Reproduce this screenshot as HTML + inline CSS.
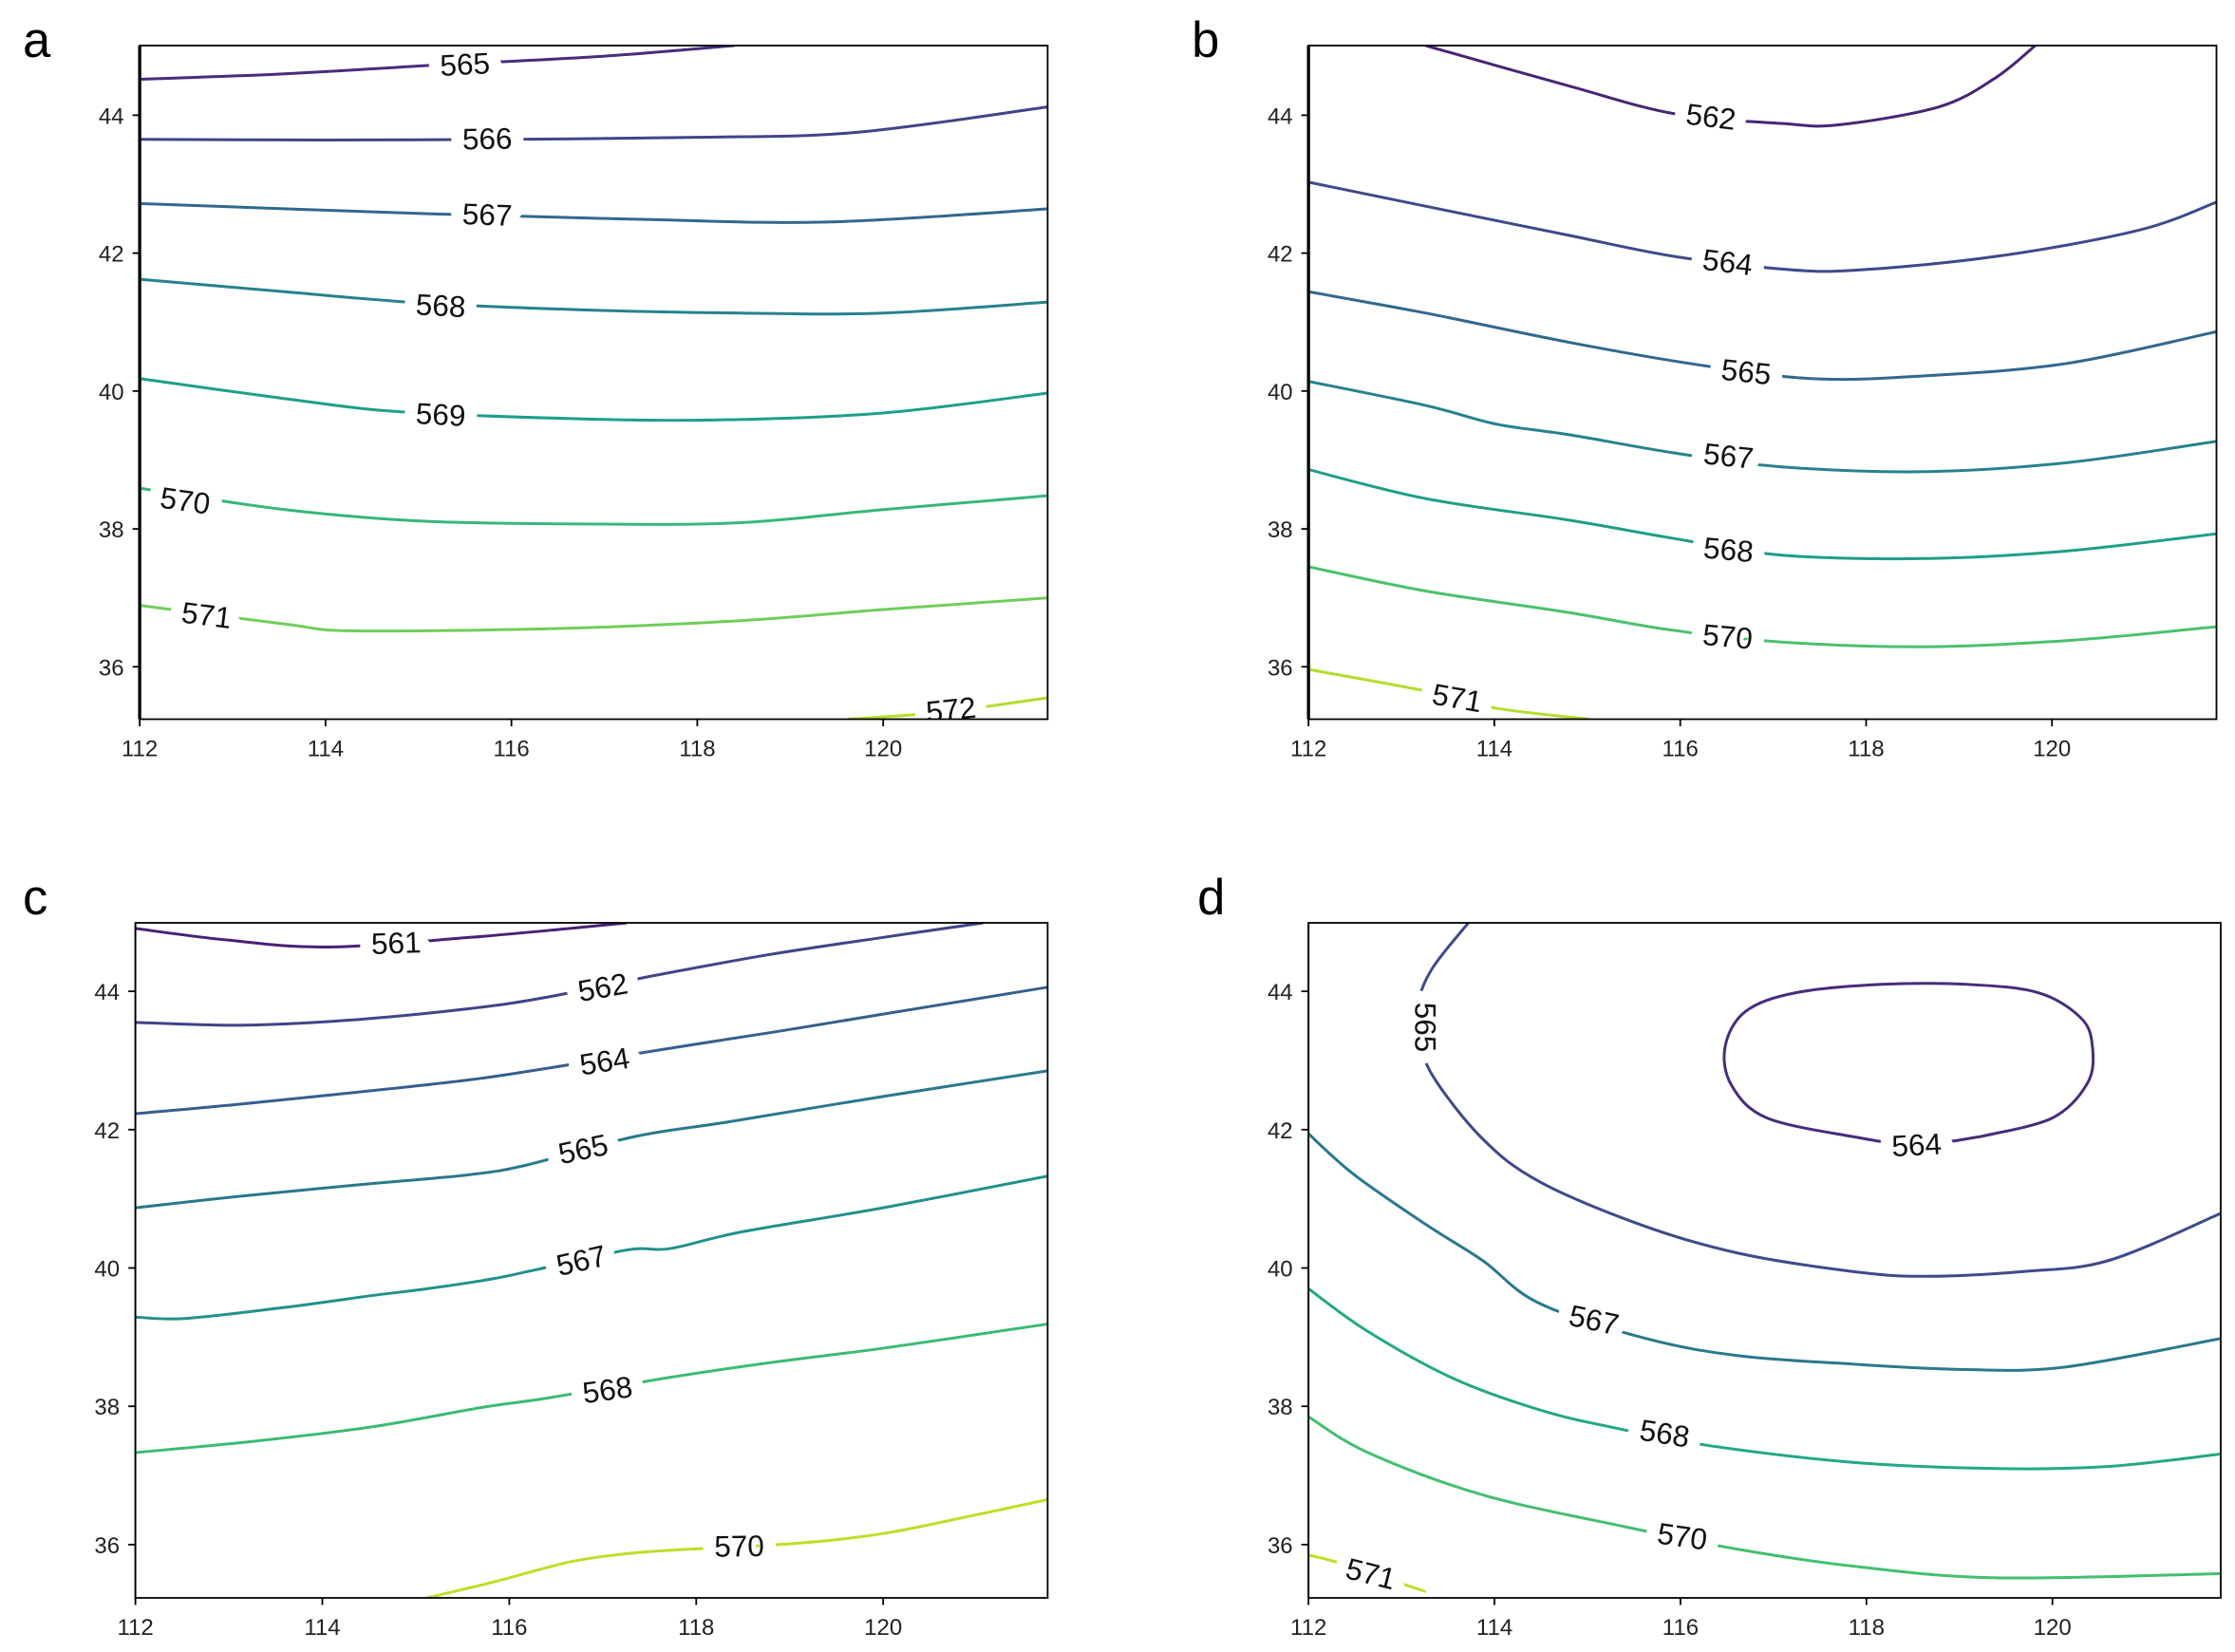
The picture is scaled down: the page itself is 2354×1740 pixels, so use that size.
<!DOCTYPE html>
<html><head><meta charset="utf-8">
<style>
html,body{margin:0;padding:0;background:#fff;}
svg{display:block;}
text{font-family:"Liberation Sans","DejaVu Sans",sans-serif;}
</style></head>
<body>
<svg id="fig" width="2354" height="1740" viewBox="0 0 1568 1160" preserveAspectRatio="none" xmlns="http://www.w3.org/2000/svg"></svg>
<script>
// ---- data (lon, lat) ----
const xTicks = [112,114,116,118,120];
const yTicks = [36,38,40,42,44];

const aLevels = ["565","566","567","568","569","570","571","572"];
const aColors = ["#472d7b","#414487","#31688e","#26828e","#1f9e89","#35b779","#6ece58","#b5de2b"];
const aLines = [
 [[112,44.52],[113.56,44.6],[115.1,44.72],[116.94,44.85],[118.4,45.01]],
 [[112,43.65],[114,43.64],[116,43.65],[118,43.68],[119.7,43.75],[121.77,44.12]],
 [[112,42.72],[115.1,42.57],[117.4,42.49],[119.39,42.45],[121.77,42.64]],
 [[112,41.62],[113.56,41.44],[115.1,41.27],[116.94,41.17],[118.47,41.13],[120,41.13],[121.77,41.29]],
 [[112,40.18],[113.56,39.89],[114.79,39.7],[116.63,39.6],[118.17,39.58],[120,39.68],[121.77,39.97]],
 [[112,38.59],[113.56,38.28],[115.1,38.11],[116.94,38.07],[118.47,38.09],[120,38.28],[121.77,38.48]],
 [[112,36.89],[113.56,36.62],[114.33,36.52],[116.63,36.56],[118.47,36.67],[120,36.83],[121.77,37.0]],
 [[119.62,35.24],[120.62,35.34],[121.77,35.55]]
];
const aLabels = [[115.5,44.74,-3],[115.74,43.66,-1],[115.74,42.56,2],[115.24,41.24,3],[115.24,39.66,3],[112.49,38.41,8],[112.72,36.75,7],[120.73,35.38,-6]];

const bLevels = ["562","564","565","567","568","570","571"];
const bColors = ["#482575","#3e4a89","#31688e","#26828e","#1f9e89","#4ac16d","#b5de2b"];
const bLines = [
 [[113.26,45.01],[114.79,44.43],[115.94,44.02],[117.09,43.88],[117.7,43.86],[118.78,44.12],[119.39,44.54],[119.82,45.01]],
 [[112,43.03],[113.26,42.68],[114.79,42.26],[115.94,41.95],[117.09,41.77],[117.86,41.75],[119.39,41.95],[120.93,42.33],[121.77,42.74]],
 [[112,41.44],[113.26,41.13],[114.79,40.71],[116.1,40.4],[117.4,40.18],[118.63,40.22],[120.16,40.4],[121.77,40.86]],
 [[112,40.14],[113.26,39.79],[114.02,39.52],[114.79,39.37],[115.94,39.1],[117.09,38.9],[118.63,38.83],[120.16,38.96],[121.77,39.27]],
 [[112,38.86],[113.26,38.44],[114.79,38.13],[115.94,37.86],[117.09,37.62],[118.63,37.57],[120.16,37.68],[121.77,37.93]],
 [[112,37.45],[113.26,37.1],[114.79,36.79],[115.87,36.54],[117.09,36.36],[118.63,36.29],[120.16,36.38],[121.77,36.58]],
 [[112,35.96],[113.26,35.65],[114.02,35.4],[115.02,35.24]]
];
const bLabels = [[116.33,43.98,7],[116.51,41.87,7],[116.71,40.28,6],[116.52,39.06,6],[116.52,37.7,5],[116.51,36.44,5],[113.6,35.55,10]];

const cLevels = ["561","562","564","565","567","568","570"];
const cColors = ["#482173","#414487","#355f8d","#2a788e","#21918c","#3bbb75","#bddf26"];
const cLines = [
 [[112,44.91],[112.99,44.74],[114.06,44.64],[115.58,44.78],[116.65,44.91],[117.26,44.99]],
 [[112,43.55],[113.14,43.51],[114.36,43.59],[115.58,43.75],[116.42,43.92],[117.56,44.23],[118.78,44.53],[120,44.78],[121.07,44.99]],
 [[112,42.23],[113.14,42.37],[114.36,42.54],[115.58,42.72],[116.42,42.89],[117.64,43.16],[118.78,43.4],[120,43.67],[121.76,44.06]],
 [[112,40.87],[113.14,41.04],[114.36,41.2],[115.58,41.35],[116.19,41.49],[117.34,41.9],[118.33,42.11],[120,42.48],[121.76,42.85]],
 [[112,39.29],[112.53,39.27],[113.6,39.43],[114.52,39.6],[115.12,39.7],[115.81,39.84],[116.27,39.97],[117.26,40.26],[117.72,40.28],[118.48,40.52],[120,40.87],[121.76,41.33]],
 [[112,37.33],[113.3,37.5],[114.52,37.7],[115.73,37.99],[116.42,38.12],[117.64,38.4],[118.78,38.63],[120,38.84],[121.76,39.19]],
 [[115.12,35.23],[115.89,35.48],[116.65,35.75],[117.26,35.87],[117.87,35.93],[119.09,36.02],[120,36.16],[120.92,36.41],[121.76,36.65]]
];
const cLabels = [[114.79,44.7,-2],[117.0,44.06,-10],[117.02,42.99,-9],[116.79,41.72,-12],[116.77,40.11,-13],[117.05,38.24,-8],[118.46,35.98,-1]];

const dLevels = ["564","565","567","568","570","571"];
const dColors = ["#472d7b","#3e4a89","#2a788e","#22a884","#44bf70","#bddf26"];
const dLines = [
 [[119.23,41.9],[120,42.17],[120.38,42.68],[120.43,43.2],[120.31,43.61],[119.85,43.98],[119.08,44.1],[118.16,44.1],[117.24,43.98],[116.7,43.71],[116.48,43.2],[116.55,42.64],[116.93,42.17],[117.85,41.9],[118.54,41.78],[119.23,41.9]],
 [[113.72,44.99],[113.33,44.33],[113.18,43.81],[113.22,43.3],[113.33,42.79],[113.87,41.87],[114.48,41.25],[115.56,40.63],[116.63,40.21],[117.85,39.95],[118.62,39.88],[119.69,39.95],[120.61,40.11],[121.81,40.79]],
 [[112,41.94],[112.49,41.35],[113.26,40.63],[113.87,40.11],[114.48,39.49],[115.63,38.98],[116.63,38.73],[117.85,38.61],[119.08,38.53],[120.15,38.57],[121.81,38.98]],
 [[112,39.7],[112.64,39.08],[113.56,38.4],[114.48,37.95],[115.25,37.7],[116.32,37.43],[117.85,37.19],[119.39,37.1],[120.61,37.13],[121.81,37.31]],
 [[112,37.85],[112.64,37.33],[113.87,36.72],[115.4,36.26],[116.63,35.93],[117.85,35.69],[119.39,35.52],[121.81,35.58]],
 [[112,35.85],[112.34,35.73],[113.26,35.32]]
];
const dLabels = [[118.54,41.78,-3],[113.26,43.48,90],[115.07,39.25,12],[115.83,37.61,9],[116.02,36.12,8],[112.67,35.58,14]];

// ---- layout ----
const panels = [
 {id:"a",letter:"a",lx:16,ly:40,x0:98,x1:735,y0:32,y1:505,lonMax:121.77,latTop:45.01,latBot:35.24,spine:2.2,levels:aLevels,colors:aColors,lines:aLines,labels:aLabels},
 {id:"b",letter:"b",lx:836,ly:40,x0:918,x1:1555,y0:32,y1:505,lonMax:121.77,latTop:45.01,latBot:35.24,spine:2.2,levels:bLevels,colors:bColors,lines:bLines,labels:bLabels},
 {id:"c",letter:"c",lx:16,ly:642,x0:95,x1:735,y0:648,y1:1122,lonMax:121.76,latTop:44.99,latBot:35.23,spine:1.2,levels:cLevels,colors:cColors,lines:cLines,labels:cLabels},
 {id:"d",letter:"d",lx:840,ly:642,x0:918,x1:1558,y0:648,y1:1122,lonMax:121.81,latTop:44.99,latBot:35.23,spine:1.2,levels:dLevels,colors:dColors,lines:dLines,labels:dLabels}
];
const NS="http://www.w3.org/2000/svg";
const svg=document.getElementById("fig");
function mk(tag,attrs,parent){const e=document.createElementNS(NS,tag);for(const k in attrs)e.setAttribute(k,attrs[k]);parent.appendChild(e);return e;}
function smooth(P){
  if(P.length<3) return P.map((q,j)=>(j?"L":"M")+q[0].toFixed(1)+","+q[1].toFixed(1)).join("");
  let d="M"+P[0][0].toFixed(1)+","+P[0][1].toFixed(1);
  for(let i=0;i<P.length-1;i++){
    const p0=P[i-1]||P[i],p1=P[i],p2=P[i+1],p3=P[i+2]||p2;
    const c1=[p1[0]+(p2[0]-p0[0])/6,p1[1]+(p2[1]-p0[1])/6];
    const c2=[p2[0]-(p3[0]-p1[0])/6,p2[1]-(p3[1]-p1[1])/6];
    d+="C"+c1[0].toFixed(1)+","+c1[1].toFixed(1)+" "+c2[0].toFixed(1)+","+c2[1].toFixed(1)+" "+p2[0].toFixed(1)+","+p2[1].toFixed(1);
  }
  return d;
}

panels.forEach(p=>{
  const sx=lon=>p.x0+(lon-112)/(p.lonMax-112)*(p.x1-p.x0);
  const sy=lat=>p.y0+(p.latTop-lat)/(p.latTop-p.latBot)*(p.y1-p.y0);
  const g=mk("g",{},svg);
  
  
  const let_=mk("text",{x:p.lx,y:p.ly,"font-size":35,fill:"#000"},g);
  let_.textContent=p.letter;
  
  
  const cp=mk("clipPath",{id:"clip"+p.id},g);
  mk("rect",{x:p.x0,y:p.y0,width:p.x1-p.x0,height:p.y1-p.y0},cp);
  const lg=mk("g",{"clip-path":"url(#clip"+p.id+")"},g);
  p.lines.forEach((pts,i)=>{
    const d=smooth(pts.map(q=>[sx(q[0]),sy(q[1])]));
    const path=mk("path",{d:d,fill:"none",stroke:p.colors[i],"stroke-width":2,"stroke-linejoin":"round"},lg);
    
    
  });
  p.labels.forEach((l,i)=>{
    const x=sx(l[0]),y=sy(l[1]);
    const t=mk("text",{x:x,y:y,"font-size":21,"text-anchor":"middle","dominant-baseline":"central",fill:"#111",stroke:"#fff","stroke-width":18,"paint-order":"stroke","stroke-linejoin":"round",transform:"rotate("+l[2]+" "+x+" "+y+")"},lg);
    t.textContent=p.levels[i];
    
    
  });
  const fr=mk("rect",{x:p.x0,y:p.y0,width:p.x1-p.x0,height:p.y1-p.y0,fill:"none",stroke:"#000","stroke-width":1.2},g);
  
  
  const sp=mk("line",{x1:p.x0,y1:p.y0,x2:p.x0,y2:p.y1,stroke:"#000","stroke-width":p.spine},g);
  
  
  xTicks.forEach(v=>{
    const x=sx(v);
    mk("line",{x1:x,y1:p.y1,x2:x,y2:p.y1+5,stroke:"#000","stroke-width":1.2},g);
    const t=mk("text",{x:x,y:p.y1+26,"font-size":16,"text-anchor":"middle",fill:"#222"},g);
    t.textContent=v;
    
    
  });
  yTicks.forEach(v=>{
    const y=sy(v);
    mk("line",{x1:p.x0-5,y1:y,x2:p.x0,y2:y,stroke:"#000","stroke-width":1.2},g);
    const t=mk("text",{x:p.x0-11,y:y+6,"font-size":16,"text-anchor":"end",fill:"#222"},g);
    t.textContent=v;
    
    
  });
});
</script>
</body></html>
